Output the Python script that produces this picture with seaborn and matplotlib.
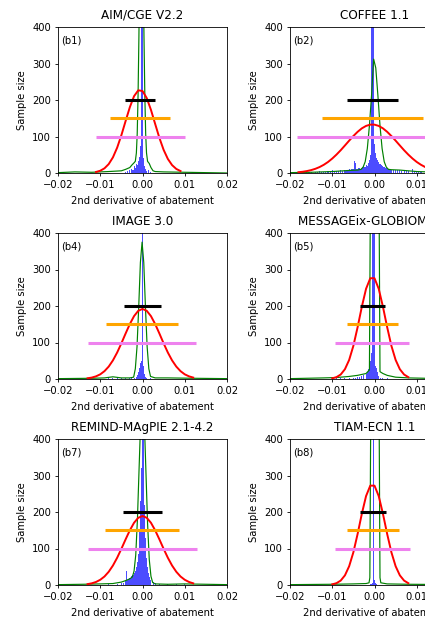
import numpy as np
import pandas as pd
import matplotlib
matplotlib.use("Agg")
import matplotlib.pyplot as plt
import seaborn as sns

# Ajustes gerais de estilo (aparência padrão do matplotlib, fontes pequenas)
plt.rcParams["font.size"] = 7.2
plt.rcParams["axes.linewidth"] = 0.6
plt.rcParams["xtick.major.size"] = 2.5
plt.rcParams["ytick.major.size"] = 2.5
plt.rcParams["xtick.major.width"] = 0.6
plt.rcParams["ytick.major.width"] = 0.6
plt.rcParams["xtick.major.pad"] = 2.5
plt.rcParams["ytick.major.pad"] = 2.5

# -----------------------------------------------------------
# DADOS
# -----------------------------------------------------------
titulos = ["AIM/CGE V2.2", "COFFEE 1.1", "IMAGE 3.0",
           "MESSAGEix-GLOBIOM 1.1", "REMIND-MAgPIE 2.1-4.2", "TIAM-ECN 1.1"]
rotulos = ["(b1)", "(b2)", "(b4)", "(b5)", "(b7)", "(b8)"]

# histogramas (centro do bin, contagem) - bins de 0.00025
hist_b1_x = [-0.004, -0.0035, -0.003, -0.0025, -0.00225, -0.002, -0.00175, -0.0015, -0.00125, -0.001,
             -0.00075, -0.0005, -0.00025, 0.0, 0.00025, 0.0005, 0.00075, 0.001, 0.0015, 0.002]
hist_b1_n = [3, 6, 9, 12, 8, 18, 14, 26, 22, 32, 45, 75, 700, 520, 40, 18, 12, 6, 8, 4]

hist_b2_x = [-0.0195, -0.019, -0.0185, -0.0175, -0.017, -0.016, -0.0155, -0.015, -0.014, -0.0135,
             -0.013, -0.0125, -0.012, -0.0115, -0.011, -0.0105, -0.01, -0.0095, -0.009, -0.0085,
             -0.008, -0.0075, -0.007, -0.00675, -0.0065, -0.00625, -0.006, -0.00575, -0.0055, -0.00525,
             -0.005, -0.00475, -0.0045, -0.00425, -0.004, -0.00375, -0.0035, -0.00325, -0.003, -0.00275,
             -0.0025, -0.00225, -0.002, -0.00175, -0.0015, -0.00125, -0.001, -0.00075, -0.0005, -0.00025,
             0.0, 0.00025, 0.0005, 0.00075, 0.001, 0.00125, 0.0015, 0.00175, 0.002, 0.00225,
             0.0025, 0.00275, 0.003, 0.00325, 0.0035, 0.00375, 0.004, 0.0045, 0.005, 0.0055,
             0.006, 0.0065, 0.007, 0.0075, 0.008, 0.009, 0.0095, 0.01, 0.0105, 0.011,
             0.012, 0.013, 0.015]
hist_b2_n = [4, 2, 2, 3, 2, 5, 3, 3, 4, 3,
             6, 4, 4, 3, 5, 4, 7, 5, 6, 5,
             8, 6, 7, 6, 9, 8, 10, 9, 12, 10,
             11, 32, 28, 12, 12, 13, 15, 12, 14, 16,
             18, 17, 22, 20, 28, 35, 50, 900, 900, 900,
             80, 55, 40, 35, 30, 26, 24, 22, 20, 17,
             15, 13, 12, 11, 10, 9, 9, 8, 8, 7,
             7, 6, 6, 5, 5, 10, 6, 4, 3, 3,
             3, 3, 2]

hist_b4_x = [-0.008, -0.007, -0.006, -0.005, -0.004, -0.003, -0.0025, -0.002, -0.0015, -0.00125,
             -0.001, -0.00075, -0.0005, -0.00025, 0.0, 0.00025, 0.0005, 0.00075, 0.001, 0.002]
hist_b4_n = [2, 2, 3, 2, 3, 3, 3, 4, 6, 10, 18, 30, 45, 50, 900, 35, 15, 6, 4, 2]

hist_b5_x = [-0.009, -0.008, -0.007, -0.006, -0.005, -0.0045, -0.004, -0.0035, -0.003, -0.0025,
             -0.002, -0.00175, -0.0015, -0.00125, -0.001, -0.00075, -0.0005, -0.00025, 0.0, 0.00025,
             0.0005, 0.00075, 0.001, 0.0015, 0.002, 0.003]
hist_b5_n = [2, 2, 3, 3, 4, 4, 5, 6, 7, 10, 15, 20, 28, 38, 50, 70, 900, 900, 600, 35, 30, 20, 8, 4, 3, 2]

hist_b7_x = [-0.008, -0.006, -0.005, -0.0045, -0.004, -0.00375, -0.0035, -0.00325, -0.003, -0.00275,
             -0.0025, -0.00225, -0.002, -0.00175, -0.0015, -0.00125, -0.001, -0.00075, -0.0005, -0.00025,
             0.0, 0.00025, 0.0005, 0.00075, 0.001, 0.00125, 0.0015, 0.00175, 0.002, 0.0025,
             0.003, 0.004, 0.006, 0.008, 0.01]
hist_b7_n = [2, 3, 5, 6, 10, 38, 14, 16, 18, 20,
             24, 28, 33, 38, 48, 62, 85, 150, 230, 320,
             430, 410, 220, 130, 75, 48, 32, 22, 14, 7,
             5, 3, 3, 2, 2]

hist_b8_x = [-0.001, -0.00075, -0.0005, -0.00025, 0.0, 0.00025, 0.0005]
hist_b8_n = [2, 3, 6, 1200, 15, 6, 2]

# curvas verdes (densidade suavizada)
verde_b1_x = [-0.02, -0.016, -0.012, -0.008, -0.005, -0.004, -0.003, -0.0025, -0.002, -0.0017,
              -0.00145, -0.00125, -0.00105, -0.00085, -0.00065, -0.00045, -0.00025, -0.00005, 0.00015, 0.00035,
              0.00055, 0.00075, 0.00095, 0.0012, 0.0016, 0.002, 0.0025, 0.003, 0.005, 0.01, 0.015, 0.02]
verde_b1_y = [1, 3, 2, 4, 6, 10, 15, 22, 28, 32,
              55, 108, 213, 374, 575, 745, 815, 745, 575, 374,
              213, 108, 55, 32, 26, 15, 6, 4, 3, 2, 1, 0]

verde_b2_x = [-0.02, -0.015, -0.01, -0.006, -0.004, -0.0032, -0.0027, -0.0022, -0.0017, -0.0012,
              -0.0007, -0.0002, 0.0003, 0.0008, 0.0013, 0.0018, 0.0023, 0.0028, 0.0033, 0.004,
              0.006, 0.01, 0.015, 0.02]
verde_b2_y = [1, 2, 4, 7, 8, 10, 16, 31, 67, 130,
              213, 312, 288, 213, 130, 67, 31, 16, 10, 9,
              8, 4, 2, 1]

verde_b4_x = [-0.02, -0.012, -0.009, -0.007, -0.005, -0.003, -0.0021, -0.0017, -0.0013, -0.0009,
              -0.0005, -0.0001, 0.0003, 0.0007, 0.0011, 0.0015, 0.0019, 0.003, 0.006, 0.012, 0.02]
verde_b4_y = [1, 2, 3, 6, 3, 3, 5, 28, 88, 196,
              319, 375, 319, 196, 88, 28, 7, 3, 3, 2, 1]

verde_b5_x = [-0.02, -0.012, -0.009, -0.006, -0.004, -0.002, -0.0012, -0.001, -0.0006, -0.0002,
              0.0002, 0.0006, 0.0011, 0.0013, 0.002, 0.003, 0.005, 0.008, 0.012, 0.02]
verde_b5_y = [1, 3, 4, 7, 10, 15, 25, 450, 1500, 2000,
              2000, 1500, 450, 20, 15, 10, 5, 3, 2, 1]

verde_b7_x = [-0.02, -0.014, -0.01, -0.007, -0.005, -0.004, -0.003, -0.0024, -0.002, -0.0016,
              -0.0012, -0.0008, -0.0004, 0.0, 0.0004, 0.0008, 0.0012, 0.0016, 0.002, 0.0024,
              0.003, 0.006, 0.01, 0.015, 0.02]
verde_b7_y = [1, 2, 3, 4, 8, 12, 17, 22, 38, 82,
              180, 322, 462, 520, 459, 315, 169, 70, 24, 7,
              3, 2, 3, 2, 1]

verde_b8_x = [-0.02, -0.01, -0.005, -0.002, -0.0013, -0.0011, -0.0009, -0.0005, 0.0001, 0.0007,
              0.0011, 0.0013, 0.0015, 0.003, 0.008, 0.02]
verde_b8_y = [1, 2, 3, 4, 6, 20, 450, 1500, 2000, 1500,
              450, 20, 6, 3, 2, 1]

# curvas vermelhas (ajuste normal), amostradas a cada 0.001 a partir do início indicado
verm_b1_ini = -0.011
verm_b1_y = [2.8, 6.2, 12.8, 24.4, 42.8, 69.4, 103.5, 142.3, 180.2, 210.5, 226.5,
             224.7, 205.4, 173.0, 134.3, 96.1, 63.4, 38.5, 21.6, 11.1, 5.3]

verm_b2_ini = -0.018
verm_b2_y = [2.2, 3.4, 5.3, 7.9, 11.5, 16.3, 22.5, 30.2, 39.6, 50.4, 62.4, 75.4, 88.6, 101.3,
             112.8, 122.3, 129.0, 132.5, 132.5, 129.0, 122.3, 112.8, 101.3, 88.6, 75.4, 62.4,
             50.4, 39.6, 30.2, 22.5, 16.3, 11.5, 7.9, 5.3, 3.4, 2.2]

verm_b4_ini = -0.013
verm_b4_y = [2.0, 3.9, 7.3, 12.8, 21.5, 34.0, 51.0, 72.5, 97.7, 124.6, 150.5, 172.3, 186.9,
             192.0, 186.9, 172.3, 150.5, 124.6, 97.7, 72.5, 51.0, 34.0, 21.5, 12.8, 7.3, 3.9]

verm_b5_ini = -0.010
verm_b5_y = [1.9, 5.1, 12.3, 26.8, 52.2, 90.9, 141.8, 197.8, 247.1, 276.1,
             276.1, 247.1, 197.8, 141.8, 90.9, 52.2, 26.8, 12.3, 5.1]

verm_b7_ini = -0.013
verm_b7_y = [2.4, 4.6, 8.3, 14.3, 23.3, 36.2, 53.3, 74.6, 99.1, 125.0, 149.8, 170.5, 184.2,
             189.0, 184.2, 170.5, 149.8, 125.0, 99.1, 74.6, 53.3, 36.2, 23.3, 14.3, 8.3, 4.6]

verm_b8_ini = -0.010
verm_b8_y = [1.8, 5.0, 12.1, 26.4, 51.4, 89.6, 139.7, 195.0, 243.6, 272.2,
             272.2, 243.6, 195.0, 139.7, 89.6, 51.4, 26.4, 12.1, 5.0]

# faixas horizontais (início, fim) em y = 200 (preto), 150 (laranja), 100 (violeta)
faixa_preta = [(-0.0042, 0.0030), (-0.0066, 0.0056), (-0.0044, 0.0043),
               (-0.0035, 0.0026), (-0.0046, 0.0046), (-0.0035, 0.0027)]
faixa_laranja = [(-0.0078, 0.0066), (-0.0125, 0.0115), (-0.0086, 0.0085),
                 (-0.0065, 0.0055), (-0.0089, 0.0087), (-0.0064, 0.0057)]
faixa_violeta = [(-0.0111, 0.0101), (-0.0184, 0.0174), (-0.0128, 0.0127),
                 (-0.0093, 0.0082), (-0.0130, 0.0129), (-0.0093, 0.0085)]

hist_x = [hist_b1_x, hist_b2_x, hist_b4_x, hist_b5_x, hist_b7_x, hist_b8_x]
hist_n = [hist_b1_n, hist_b2_n, hist_b4_n, hist_b5_n, hist_b7_n, hist_b8_n]
verde_x = [verde_b1_x, verde_b2_x, verde_b4_x, verde_b5_x, verde_b7_x, verde_b8_x]
verde_y = [verde_b1_y, verde_b2_y, verde_b4_y, verde_b5_y, verde_b7_y, verde_b8_y]
verm_ini = [verm_b1_ini, verm_b2_ini, verm_b4_ini, verm_b5_ini, verm_b7_ini, verm_b8_ini]
verm_y = [verm_b1_y, verm_b2_y, verm_b4_y, verm_b5_y, verm_b7_y, verm_b8_y]

# bordas dos bins do histograma
bordas = np.linspace(-0.020125, 0.020125, 162).tolist()

# -----------------------------------------------------------
# PLOTAGEM
# -----------------------------------------------------------
fig = plt.figure(figsize=(4.25, 6.17), dpi=100)

# posição dos eixos em pixels (a coluna da direita passa da borda, como no original)
col_esq = [58, 290]
lin_topo = [27, 233, 439]
larg, alt = 169, 146

for i in range(6):
    lin, col = i // 2, i % 2
    ax = fig.add_axes([col_esq[col] / 425, 1 - (lin_topo[lin] + alt) / 617, larg / 425, alt / 617])

    # histograma em degraus preenchidos (sem frestas entre os bins)
    df_hist = pd.DataFrame({"x": hist_x[i], "n": hist_n[i]})
    sns.histplot(data=df_hist, x="x", weights="n", bins=bordas, element="step", fill=True,
                 color="blue", alpha=0.7, linewidth=0, ax=ax)
    sns.lineplot(x=verde_x[i], y=verde_y[i], color="green", lw=0.85, ax=ax)
    xr = np.round(verm_ini[i] + 0.001 * np.arange(len(verm_y[i])), 4)
    sns.lineplot(x=xr, y=verm_y[i], color="red", lw=1.4, ax=ax)

    ax.hlines(200, *faixa_preta[i], color="black", lw=2.2)
    ax.hlines(150, *faixa_laranja[i], color="orange", lw=2.2)
    ax.hlines(100, *faixa_violeta[i], color="violet", lw=2.2)

    ax.set_xlim(-0.02, 0.02)
    ax.set_ylim(0, 400)
    ax.set_xticks([-0.02, -0.01, 0.0, 0.01, 0.02])
    ax.set_yticks([0, 100, 200, 300, 400])
    ax.set_title(titulos[i])
    ax.set_xlabel("2nd derivative of abatement")
    ax.set_ylabel("Sample size")
    ax.text(0.02, 0.94, rotulos[i], transform=ax.transAxes, va="top", ha="left")

plt.savefig("out.png", dpi=100)
